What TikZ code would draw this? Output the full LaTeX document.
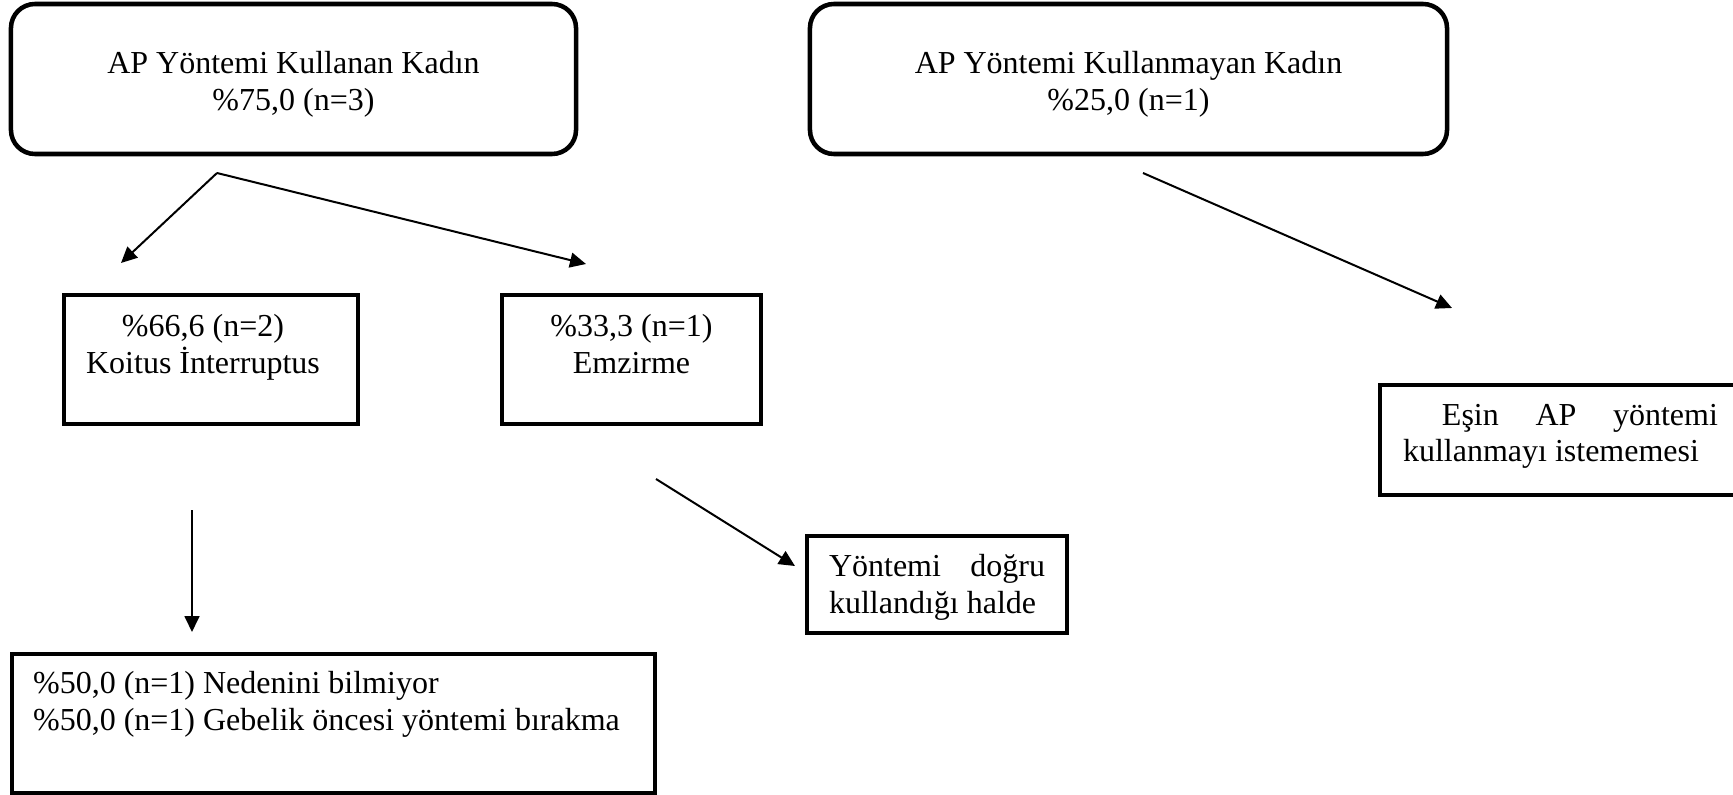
\documentclass[tikz,border=0pt]{standalone}
\usepackage{fontspec}
\setmainfont{Liberation Serif}
\usetikzlibrary{arrows.meta}
\def\kutuyazi(#1:#2:#3)#4{\parbox[c][#2][t]{#1}{\lineskiplimit=-20pt\rule{0pt}{#3}#4}}
\tikzset{
	kutu/.style={draw, line width=1.3pt, inner ysep=0pt, inner xsep=0pt, font=\fontsize{12pt}{13.8pt}\selectfont},
	yuvarlak/.style={kutu, line width=1.7pt, rounded corners=9pt},
	ok/.style={-{Triangle[length=6pt,width=5.6pt]}, line width=0.75pt}
}

\begin{document}
\begin{tikzpicture}[x=0.375pt, y=-0.375pt]
		%%%%% START %%%%%
		\useasboundingbox (0,0) rectangle (1733,795);
		
		\node[yuvarlak] (kullanan) at (293.5,79) {\kutuyazi(211.9pt:56.25pt:26.25pt){\centering AP Yöntemi Kullanan Kadın\\\%75,0 (n=3)}};
		\node[yuvarlak] (kullanmayan) at (1128.5,79) {\kutuyazi(238.9pt:56.25pt:26.25pt){\centering AP Yöntemi Kullanmayan Kadın\\\%25,0 (n=1)}};
		
		\node[kutu] (koitus) at (211,359.5) {\kutuyazi(110.25pt:48.4pt:15.6pt){\centering\rightskip=6pt plus 1fil \%66,6 (n=2)\\Koitus İnterruptus}};
		\node[kutu] (emzirme) at (631.5,359.5) {\kutuyazi(97.1pt:48.4pt:15.6pt){\centering\%33,3 (n=1)\\Emzirme}};
		
		\node[kutu, inner xsep=8.6pt] (esin) at (1560.5,440) {\kutuyazi(118.1pt:41.25pt:15pt){\hspace*{14.6pt}Eşin\hfill AP\hfill yöntemi\\kullanmayı istememesi}};
		\node[kutu, inner xsep=8.25pt] (dogru) at (937,584.5) {\kutuyazi(81pt:36.4pt:15.3pt){Yöntemi\hfill doğru\\kullandığı halde}};
		\node[kutu, inner xsep=7.9pt] (neden) at (333.5,723.5) {\kutuyazi(225.3pt:52.1pt:14.7pt){\raggedright\%50,0 (n=1) Nedenini bilmiyor\\\%50,0 (n=1) Gebelik öncesi yöntemi bırakma}};
		
		% ok uclari
		\coordinate (ayrim) at (217,173);
		\coordinate (koitusUc) at (121,263);
		\coordinate (emzirmeUc) at (586,264);
		\coordinate (ayrim2) at (1143,173);
		\coordinate (esinUc) at (1452,308);
		\coordinate (nedenBas) at (192,510);
		\coordinate (nedenUc) at (192,632);
		\coordinate (dogruBas) at (656,479);
		\coordinate (dogruUc) at (795,566);
		
		\draw[ok] (ayrim) -- (koitusUc);
		\draw[ok] (ayrim) -- (emzirmeUc);
		\draw[ok] (ayrim2) -- (esinUc);
		\draw[ok] (nedenBas) -- (nedenUc);
		\draw[ok] (dogruBas) -- (dogruUc);
		
		%%%%% END %%%%%
\end{tikzpicture}
\end{document}
